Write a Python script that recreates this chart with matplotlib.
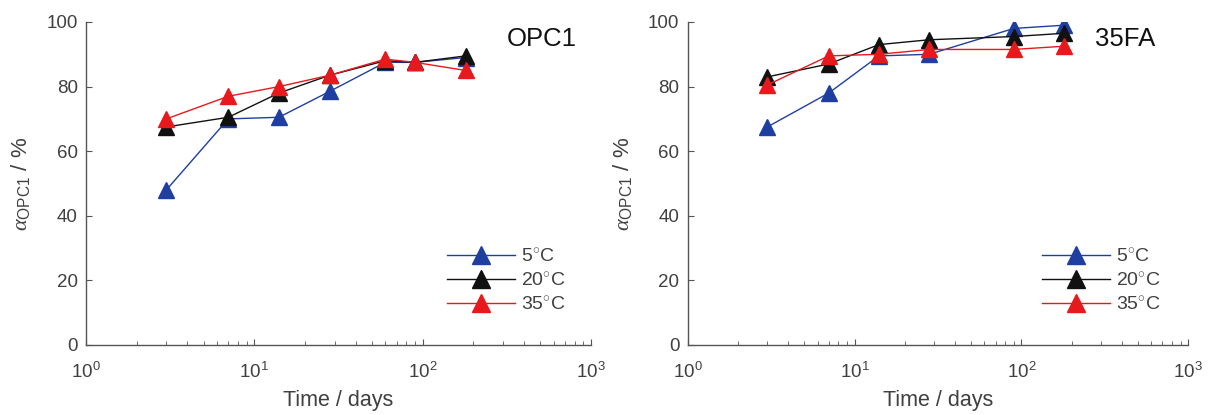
import matplotlib
matplotlib.use("Agg")
import matplotlib.pyplot as plt
from matplotlib.ticker import LogLocator, FixedLocator

plt.rcParams['font.family'] = ['Liberation Sans', 'DejaVu Sans']
plt.rcParams['mathtext.fontset'] = 'custom'
plt.rcParams['mathtext.rm'] = 'Liberation Sans'
plt.rcParams['mathtext.it'] = 'Liberation Serif:italic'
plt.rcParams['mathtext.sf'] = 'Liberation Sans'

# Data
t_opc1 = [3, 7, 14, 28, 60, 90, 180]
opc1_5 = [48, 70, 70.5, 78.5, 87.5, 87.5, 89]
opc1_20 = [67.5, 70.5, 78, 83.5, 88, 87.5, 89.5]
opc1_35 = [70, 77, 80, 83.5, 88.5, 87.5, 85]

t_fa = [3, 7, 14, 28, 90, 180]
fa_5 = [67.5, 78, 89.5, 90, 98, 99]
fa_20 = [83, 87, 93, 94.5, 95.5, 96.5]
fa_35 = [80.5, 89.5, 90, 91.5, 91.5, 92.5]

labels = ['5$^{\\circ}$C', '20$^{\\circ}$C', '35$^{\\circ}$C']
colors = ['#1f3fa0', '#111111', '#e8191c']
titles = ['OPC1', '35FA']
yticks = [0, 20, 40, 60, 80, 100]

txt = '#404040'
fig = plt.figure(figsize=(12.15, 4.15), dpi=100)
ax1 = fig.add_axes([0.0708, 0.1687, 0.4156, 0.7783])
ax2 = fig.add_axes([0.566, 0.1687, 0.412, 0.7783])

panels = [(ax1, t_opc1, [opc1_5, opc1_20, opc1_35], titles[0], 0.972, 0.715),
          (ax2, t_fa, [fa_5, fa_20, fa_35], titles[1], 0.934, 0.708)]

for ax, t, series, title, tx_x, leg_x in panels:
    for ys, c, lab in zip(series, colors, labels):
        ax.plot(t, ys, '-^', color=c, lw=1.0, ms=12, mec=c, mfc=c, label=lab)
    ax.set_xscale('log')
    ax.set_xlim(1, 1000)
    ax.set_ylim(0, 100)
    ax.yaxis.set_major_locator(FixedLocator(yticks))
    ax.xaxis.set_major_locator(LogLocator(base=10, numticks=10))
    ax.xaxis.set_minor_locator(LogLocator(base=10, subs=range(2, 10), numticks=10))
    for s in ['top', 'right']:
        ax.spines[s].set_visible(False)
    for s in ['left', 'bottom']:
        ax.spines[s].set_color('#555555')
        ax.spines[s].set_linewidth(1.0)
    ax.tick_params(axis='both', which='major', direction='in', length=4, color='#555555',
                   labelsize=13.5, labelcolor=txt, pad=6)
    ax.tick_params(axis='x', which='minor', direction='in', length=3, color='#555555')
    ax.tick_params(axis='x', which='major', pad=12)
    ax.set_xlabel('Time / days', fontsize=15.5, color=txt, labelpad=6)
    ax.set_ylabel(r'$\alpha_{\mathrm{OPC1}}$ / %', fontsize=16, color=txt, labelpad=10)
    ax.text(tx_x, 0.985, title, transform=ax.transAxes, fontsize=18.5, color='#111111',
            ha='right', va='top')
    leg = ax.legend(loc='lower left', bbox_to_anchor=(leg_x, 0.095), frameon=False,
                    fontsize=14, handlelength=3.5, handletextpad=0.3, labelspacing=0.35,
                    borderpad=0, borderaxespad=0, markerscale=1.05)
    for tx in leg.get_texts():
        tx.set_color(txt)

fig.savefig('out.png', dpi=100, facecolor='white')
